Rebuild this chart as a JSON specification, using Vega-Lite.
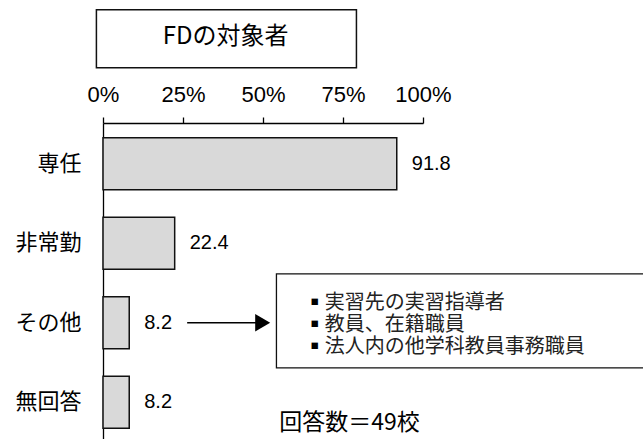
{
  "$schema": "https://vega.github.io/schema/vega-lite/v6.json",
  "autosize": {"type": "none"},
  "width": 320,
  "height": 316,
  "padding": {"left": 103, "top": 123, "right": 220, "bottom": 0},
  "background": "white",
  "config": {"view": {"stroke": null}},
  "data": {"values": [
    {"cat": "専任", "value": 91.8},
    {"cat": "非常勤", "value": 22.4},
    {"cat": "その他", "value": 8.2},
    {"cat": "無回答", "value": 8.2}
  ]},
  "encoding": {
    "y": {
      "field": "cat", "type": "nominal", "sort": ["専任", "非常勤", "その他", "無回答"],
      "scale": {"paddingInner": 0.346, "paddingOuter": 0.184, "range": [0, 320]},
      "axis": {"orient": "left", "title": null, "ticks": false, "tickSize": 0, "labelPadding": 22,
        "labelFont": "Noto Sans CJK JP", "labelFontSize": 22, "labelFontWeight": "normal", "labelColor": "#000",
        "domainColor": "#000", "domainWidth": 1.3}
    }
  },
  "layer": [
    {
      "mark": {"type": "bar", "fill": "#d9d9d9", "stroke": "#111", "strokeWidth": 1.5},
      "encoding": {
        "x": {"field": "value", "type": "quantitative",
          "scale": {"domain": [0, 100], "nice": false, "zero": true},
          "axis": {"orient": "top", "title": null, "grid": false, "values": [0, 25, 50, 75, 100],
            "labelExpr": "datum.value + '%'", "labelFont": "Liberation Sans", "labelFontSize": 22,
            "labelColor": "#000", "labelPadding": 11, "tickSize": 6, "tickColor": "#000", "tickWidth": 1.3,
            "domainColor": "#000", "domainWidth": 1.3, "labelFlush": false, "labelOverlap": false}}
      }
    },
    {
      "mark": {"type": "text", "align": "left", "baseline": "middle", "dx": 15, "font": "Liberation Sans", "fontSize": 20, "color": "#000"},
      "encoding": {
        "x": {"field": "value", "type": "quantitative"},
        "text": {"field": "value", "type": "quantitative", "format": ".1f"}
      }
    },
    {
      "data": {"values": [{}]},
      "mark": {"type": "bar", "fill": "white", "stroke": "#111", "strokeWidth": 1.5, "height": 58, "yOffset": -125},
      "encoding": {
        "x": {"datum": -2.06, "type": "quantitative"},
        "x2": {"datum": 79.2},
        "y": {"datum": "専任", "type": "nominal"}
      }
    },
    {
      "data": {"values": [{}]},
      "mark": {"type": "text", "align": "center", "baseline": "middle", "yOffset": -127, "font": "Noto Sans CJK JP", "fontSize": 24, "color": "#000"},
      "encoding": {
        "x": {"datum": 38.3, "type": "quantitative"},
        "y": {"datum": "専任", "type": "nominal"},
        "text": {"value": "FDの対象者"}
      }
    },
    {
      "data": {"values": [{}]},
      "mark": {"type": "rule", "color": "#000", "strokeWidth": 1.6},
      "encoding": {
        "x": {"datum": 26.3, "type": "quantitative"},
        "x2": {"datum": 48.5},
        "y": {"datum": "その他", "type": "nominal"}
      }
    },
    {
      "data": {"values": [{}]},
      "mark": {"type": "point", "shape": "triangle-right", "filled": true, "color": "#000", "opacity": 1, "size": 300},
      "encoding": {
        "x": {"datum": 49.9, "type": "quantitative"},
        "y": {"datum": "その他", "type": "nominal"}
      }
    },
    {
      "data": {"values": [{}]},
      "mark": {"type": "bar", "fill": "white", "stroke": "#111", "strokeWidth": 1.3, "height": 94, "yOffset": -2},
      "encoding": {
        "x": {"datum": 54.2, "type": "quantitative"},
        "x2": {"datum": 170},
        "y": {"datum": "その他", "type": "nominal"}
      }
    },
    {
      "data": {"values": [{}]},
      "mark": {"type": "text", "align": "center", "baseline": "middle", "yOffset": -20, "lineHeight": 22, "font": "Noto Sans CJK JP", "fontSize": 8, "color": "#000"},
      "encoding": {
        "x": {"datum": 66.2, "type": "quantitative"},
        "y": {"datum": "その他", "type": "nominal"},
        "text": {"value": ["■", "■", "■"]}
      }
    },
    {
      "data": {"values": [{}]},
      "mark": {"type": "text", "align": "left", "baseline": "middle", "yOffset": -20, "font": "Noto Sans CJK JP", "fontSize": 20, "color": "#222"},
      "encoding": {
        "x": {"datum": 69.3, "type": "quantitative"},
        "y": {"datum": "その他", "type": "nominal"},
        "text": {"value": "実習先の実習指導者"}
      }
    },
    {
      "data": {"values": [{}]},
      "mark": {"type": "text", "align": "left", "baseline": "middle", "yOffset": 2, "font": "Noto Sans CJK JP", "fontSize": 20, "color": "#222"},
      "encoding": {
        "x": {"datum": 69.3, "type": "quantitative"},
        "y": {"datum": "その他", "type": "nominal"},
        "text": {"value": "教員、在籍職員"}
      }
    },
    {
      "data": {"values": [{}]},
      "mark": {"type": "text", "align": "left", "baseline": "middle", "yOffset": 24, "font": "Noto Sans CJK JP", "fontSize": 20, "color": "#222"},
      "encoding": {
        "x": {"datum": 69.3, "type": "quantitative"},
        "y": {"datum": "その他", "type": "nominal"},
        "text": {"value": "法人内の他学科教員事務職員"}
      }
    },
    {
      "data": {"values": [{}]},
      "mark": {"type": "text", "align": "left", "baseline": "middle", "yOffset": 21, "font": "Noto Sans CJK JP", "fontSize": 23, "color": "#000"},
      "encoding": {
        "x": {"datum": 55.1, "type": "quantitative"},
        "y": {"datum": "無回答", "type": "nominal"},
        "text": {"value": "回答数＝49校"}
      }
    }
  ]
}
